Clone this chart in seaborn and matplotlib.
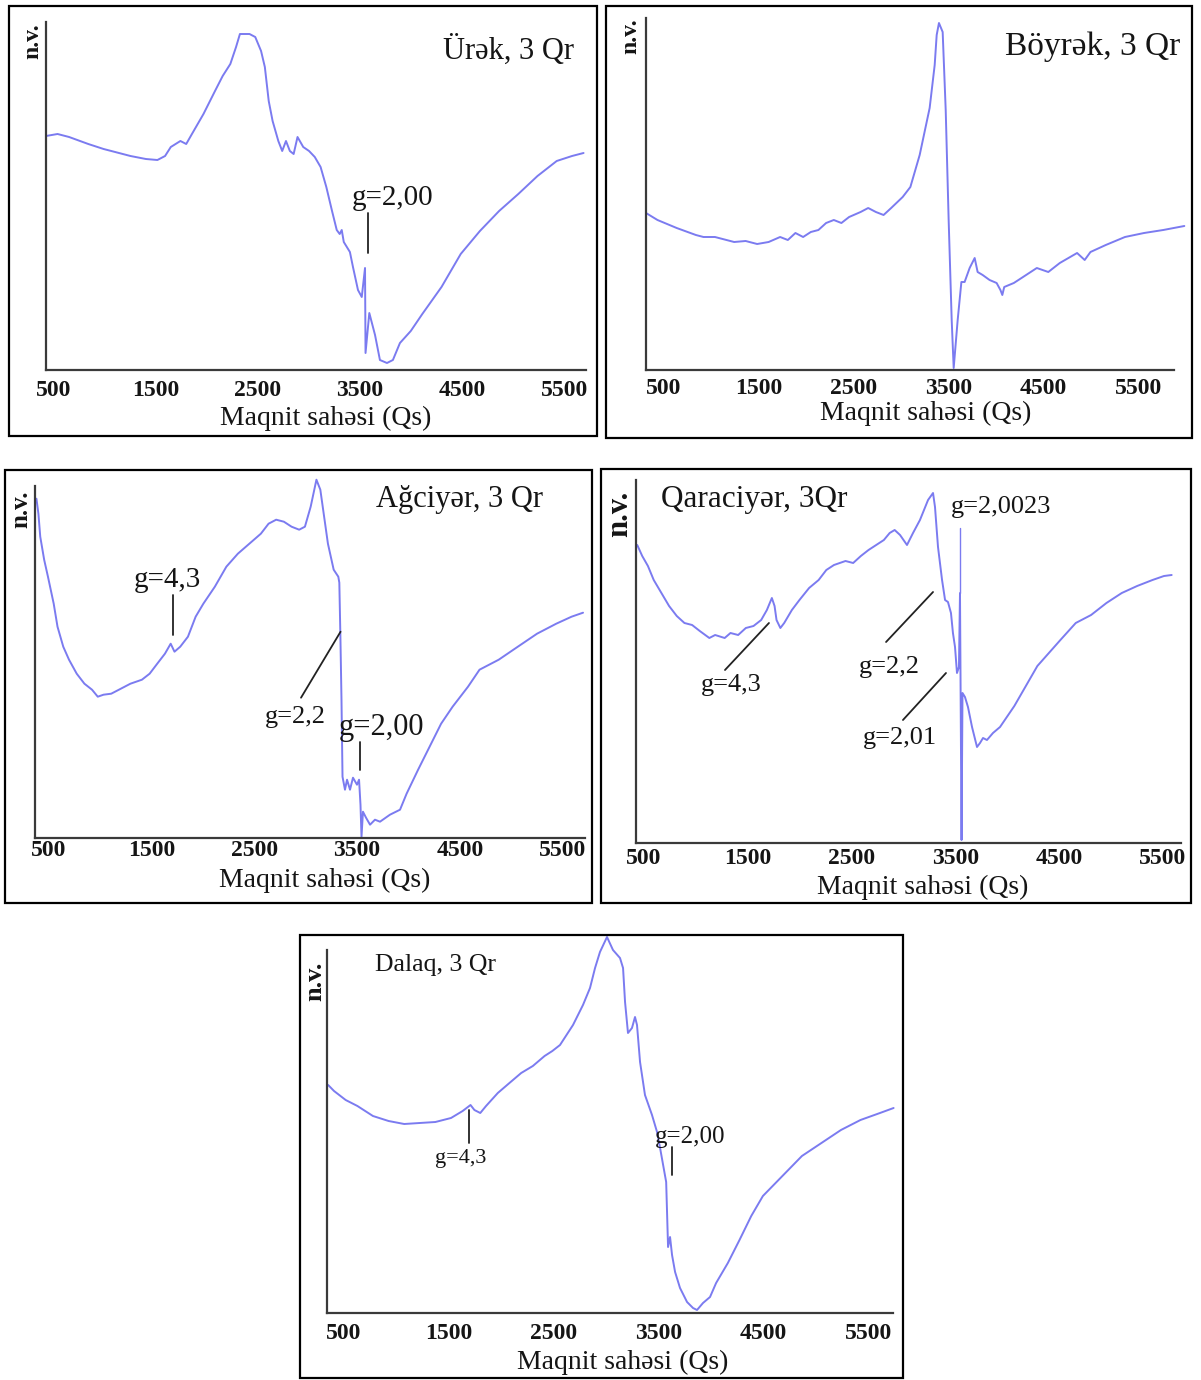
import numpy as np
import pandas as pd
import seaborn as sns
import matplotlib.pyplot as plt
from matplotlib.patches import Rectangle

# EPR spektrləri: maqnit sahəsi (Qs) və nisbi vahid (n.v.)
urek_qs = [424, 537, 650, 838, 988, 1101, 1251, 1402, 1515, 1590,
           1646, 1740, 1797, 1853, 1966, 2079, 2154, 2229, 2285, 2323,
           2417, 2473, 2530, 2567, 2605, 2643, 2699, 2737, 2774, 2812,
           2849, 2887, 2943, 3000, 3056, 3113, 3169, 3225, 3271, 3300,
           3320, 3340, 3400, 3430, 3479, 3516, 3548, 3553, 3590, 3646,
           3694, 3763, 3821, 3890, 3996, 4109, 4297, 4485, 4673, 4861,
           5049, 5237, 5425, 5575, 5688]
urek_nv = [234, 236, 233, 226, 221, 218, 214, 211, 210, 214,
           223, 229, 226, 236, 256, 279, 294, 306, 323, 336,
           336, 333, 319, 303, 269, 249, 229, 219, 229, 219,
           216, 233, 223, 219, 213, 203, 183, 159, 140, 136,
           140, 128, 118, 103, 80, 73, 102, 17, 57, 35,
           10, 7, 10, 27, 39, 56, 83, 116, 139, 159,
           176, 194, 209, 214, 217]

boyrek_qs = [318, 439, 641, 843, 923, 1044, 1246, 1367, 1488, 1609,
             1730, 1811, 1891, 1972, 2053, 2133, 2214, 2295, 2375, 2456,
             2577, 2657, 2738, 2819, 2899, 3020, 3101, 3199, 3304, 3357,
             3378, 3402, 3441, 3473, 3504, 3536, 3557, 3599, 3638, 3672,
             3725, 3778, 3809, 3862, 3935, 4009, 4049, 4069, 4089, 4190,
             4271, 4432, 4553, 4674, 4856, 4936, 4997, 5158, 5360, 5561,
             5763, 5985]
boyrek_nv = [157, 150, 142, 135, 133, 133, 128, 129, 126, 128,
             133, 130, 137, 133, 138, 140, 147, 150, 147, 153,
             158, 162, 158, 155, 162, 173, 183, 215, 262, 305,
             335, 347, 338, 260, 150, 50, 2, 50, 88, 88,
             102, 112, 98, 95, 90, 87, 80, 75, 83, 87,
             92, 102, 98, 107, 117, 110, 118, 125, 133, 137,
             140, 144]

agciyer_qs = [378, 397, 415, 453, 490, 546, 583, 639, 695, 770,
              845, 919, 975, 1031, 1106, 1181, 1293, 1405, 1480, 1554,
              1629, 1685, 1722, 1778, 1853, 1928, 2003, 2115, 2227, 2339,
              2451, 2563, 2638, 2712, 2787, 2862, 2936, 2992, 3048, 3104,
              3142, 3179, 3216, 3272, 3317, 3327, 3338, 3348, 3358, 3382,
              3402, 3431, 3460, 3499, 3519, 3533, 3543, 3557, 3587, 3626,
              3674, 3723, 3820, 3918, 3982, 4094, 4206, 4318, 4430, 4580,
              4692, 4879, 5065, 5252, 5439, 5588, 5700]
agciyer_nv = [339, 324, 301, 278, 261, 234, 211, 191, 178, 164,
              154, 148, 141, 143, 144, 148, 154, 158, 164, 174,
              184, 194, 186, 191, 201, 221, 234, 251, 271, 284,
              294, 304, 314, 318, 316, 311, 308, 311, 331, 358,
              348, 321, 294, 268, 261, 255, 198, 138, 61, 48,
              58, 48, 60, 53, 58, 33, 1, 26, 20, 13,
              18, 16, 23, 28, 44, 68, 91, 114, 131, 151,
              168, 178, 191, 204, 214, 221, 225]

qaraciyer_qs = [434, 482, 537, 593, 667, 741, 815, 889, 963, 1037,
                1129, 1185, 1277, 1333, 1407, 1481, 1555, 1629, 1684, 1732,
                1758, 1777, 1814, 1851, 1925, 1998, 2091, 2183, 2257, 2331,
                2442, 2516, 2590, 2664, 2738, 2812, 2868, 2916, 2968, 3035,
                3093, 3160, 3238, 3286, 3305, 3334, 3373, 3402, 3430, 3459,
                3478, 3498, 3517, 3536, 3546, 3561, 3570, 3594, 3623, 3662,
                3710, 3739, 3768, 3806, 3864, 3932, 4070, 4181, 4292, 4403,
                4514, 4662, 4810, 4958, 5106, 5254, 5402, 5513, 5587]
qaraciyer_nv = [298, 287, 277, 263, 250, 237, 227, 220, 218, 212,
                205, 208, 205, 210, 208, 215, 217, 223, 233, 245,
                237, 223, 215, 220, 233, 243, 255, 263, 273, 278,
                282, 280, 287, 293, 298, 303, 310, 313, 308, 298,
                310, 323, 343, 350, 336, 296, 263, 243, 241, 230,
                210, 196, 170, 176, 250, 3, 150, 146, 136, 116,
                96, 100, 105, 103, 110, 116, 137, 157, 177, 190,
                203, 220, 228, 240, 250, 257, 263, 267, 268]

dalaq_qs = [352, 408, 519, 631, 779, 928, 1077, 1225, 1374, 1523,
            1634, 1709, 1746, 1802, 1857, 1969, 2080, 2192, 2303, 2415,
            2489, 2562, 2686, 2781, 2848, 2896, 2943, 3010, 3067, 3134,
            3163, 3182, 3210, 3248, 3277, 3296, 3325, 3372, 3439, 3487,
            3516, 3574, 3592, 3611, 3630, 3659, 3706, 3773, 3830, 3868,
            3925, 3992, 4050, 4162, 4273, 4385, 4496, 4682, 4868, 5054,
            5240, 5426, 5612, 5742]
dalaq_nv = [228, 222, 213, 207, 197, 192, 189, 190, 191, 195,
            202, 208, 203, 200, 207, 220, 230, 240, 247, 257,
            262, 268, 288, 308, 325, 345, 361, 376, 363, 355,
            345, 311, 280, 285, 296, 288, 251, 218, 198, 181,
            165, 131, 66, 76, 58, 41, 25, 11, 5, 3,
            10, 16, 30, 50, 73, 97, 117, 137, 157, 170,
            183, 193, 200, 205]

tick_vals = [500, 1500, 2500, 3500, 4500, 5500]
xlabel = "Maqnit sahəsi (Qs)"

sns.set_style("white")
plt.rcParams['font.family'] = ['Liberation Serif', 'DejaVu Serif']

W, H = 1201, 1380
fig = plt.figure(figsize=(W / 100, H / 100), dpi=100)
LINE = "#7b7bf0"
INK = "#151515"

# paneller: çərçivə, ox sahəsi (piksel), x intervalı, y intervalı
panels = [
    dict(qs=urek_qs, nv=urek_nv, title="Ürək, 3 Qr",
         box=(9, 6, 597, 436), ax=(46, 22, 585.6, 370), xlim=(424, 5708), ylim=(0, 348),
         tpos=(5598, 320, 'right'), tsize=22, pad=7,
         nv_lab=(33, 23, 17), xl=(326, 418)),
    dict(qs=boyrek_qs, nv=boyrek_nv, title="Böyrək, 3 Qr",
         box=(606, 6, 1192, 438), ax=(646, 18, 1173.5, 370), xlim=(318, 5871), ylim=(0, 352),
         tpos=(5944, 323, 'right'), tsize=24, pad=6,
         nv_lab=(631, 18, 17), xl=(926, 413)),
    dict(qs=agciyer_qs, nv=agciyer_nv, title="Ağciyər, 3 Qr",
         box=(5, 470, 592, 903), ax=(34.5, 486, 585, 837.7), xlim=(359, 5719), ylim=(0, 351.7),
         tpos=(5310, 338, 'right'), tsize=22, pad=1.5,
         nv_lab=(21, 491, 18), xl=(325, 880)),
    dict(qs=qaraciyer_qs, nv=qaraciyer_nv, title="Qaraciyər, 3Qr",
         box=(601, 469, 1191, 903), ax=(636, 480, 1181, 843), xlim=(422, 5677), ylim=(0, 363),
         tpos=(663, 343, 'left'), tsize=22.5, pad=3.6,
         nv_lab=(620, 491, 22), xl=(923, 887)),
    dict(qs=dalaq_qs, nv=dalaq_nv, title="Dalaq, 3 Qr",
         box=(300, 935, 903, 1378), ax=(327, 950, 893.4, 1313), xlim=(341, 5740), ylim=(0, 363),
         tpos=(799, 348, 'left'), tsize=18.5, pad=7,
         nv_lab=(315, 962, 19), xl=(623, 1362)),
]

# g-faktor qeydləri: (mətn, mətn x, mətn y, ölçü, xətt x1, y1, x2, y2)
notes = [
    [("g=2,00", 3817, 172, 21, 3577, 117, 3577, 157)],
    [],
    [("g=4,3", 1654, 258, 21, 1707, 203, 1707, 243),
     ("g=2,2", 2900, 121, 19, 2954, 140, 3339, 206),
     ("g=2,00", 3733, 110, 22, 3528, 68, 3528, 96)],
    [("g=2,0023", 3942, 336, 19, None, None, None, None),
     ("g=2,2", 2866, 176, 19, 2833, 201, 3286, 251),
     ("g=2,01", 2963, 105, 19, 2996, 123, 3411, 170),
     ("g=4,3", 1343, 158, 19, 1280, 173, 1704, 220)],
    [("g=4,3", 1613, 155, 16, 1694, 170, 1694, 203),
     ("g=2,00", 3801, 176, 18, 3630, 138, 3630, 166)],
]

for p, pnotes in zip(panels, notes):
    bx0, by0, bx1, by1 = p['box']
    fig.add_artist(Rectangle((bx0 / W, 1 - by1 / H), (bx1 - bx0) / W, (by1 - by0) / H,
                             transform=fig.transFigure, fill=False, ec="black", lw=1.6))
    l, t, r, b = p['ax']
    ax = fig.add_axes([l / W, 1 - b / H, (r - l) / W, (b - t) / H])
    df = pd.DataFrame({"qs": p['qs'], "nv": p['nv']})
    sns.lineplot(data=df, x="qs", y="nv", ax=ax, color=LINE, lw=1.4,
                 sort=False, estimator=None)
    ax.lines[-1].set_clip_on(False)
    ax.set_xlim(*p['xlim'])
    ax.set_ylim(*p['ylim'])
    ax.set_xlabel("")
    ax.set_ylabel("")
    ax.patch.set_alpha(0)
    for s in ["top", "right"]:
        ax.spines[s].set_visible(False)
    for s in ["left", "bottom"]:
        ax.spines[s].set_color("#3a3a3a")
        ax.spines[s].set_linewidth(1.6)
    ax.set_yticks([])
    ax.set_xticks(tick_vals)
    ax.set_xticklabels([str(v) for v in tick_vals], fontsize=17, fontweight="bold", color=INK)
    ax.set_xticks(np.arange(650, p['xlim'][1], 485), minor=True)
    ax.tick_params(axis="x", which="major", length=0, pad=p['pad'])
    ax.tick_params(axis="x", which="minor", direction="in", length=3, width=1, color="#888888")

    tx, ty, ha = p['tpos']
    ax.text(tx, ty, p['title'], ha=ha, va="center", fontsize=p['tsize'], color=INK, clip_on=False)

    for txt, x, y, fs, x1, y1, x2, y2 in pnotes:
        ax.text(x, y, txt, ha="center", va="center", fontsize=fs, color=INK, clip_on=False)
        if x1 is not None:
            ax.plot([x1, x2], [y1, y2], color="#222222", lw=1.3, clip_on=False)

    if p['title'].startswith("Qaraciyər"):
        # g=2,0023 siqnalının nazik göstəricisi
        ax.plot([3546, 3546], [250, 315], color=LINE, lw=1.0, clip_on=False)

    nx, ntop, nfs = p['nv_lab']
    fig.text(nx / W, 1 - ntop / H, "n.v.", rotation=90, ha="center", va="top",
             fontsize=nfs, fontweight="bold", color=INK)
    xx, xy = p['xl']
    fig.text(xx / W, 1 - xy / H, xlabel, ha="center", va="center", fontsize=20, color=INK)

fig.savefig("out.png", dpi=100, facecolor="white")
